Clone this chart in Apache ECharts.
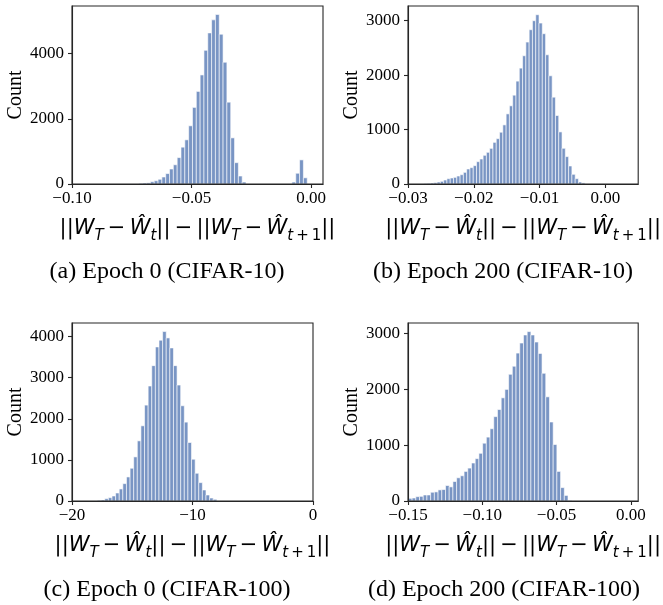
<!DOCTYPE html>
<html>
<head>
<meta charset="utf-8">
<script src="https://cdn.jsdelivr.net/npm/echarts@6/dist/echarts.min.js"></script>
<style>
html,body{margin:0;padding:0;background:#fff;}
#chart{width:663px;height:605px;}
</style>
</head>
<body>
<div id="chart"></div>
<script>
// ---------- data (histogram counts) ----------
// Panel (a) Epoch 0 (CIFAR-10)
const aBinStart = -0.0720, aBinWidth = 0.0016;
const aCounts = [20,30,35,70,100,145,215,320,460,590,810,1130,1355,1785,2350,2840,3345,4100,4635,5035,5200,4595,3735,2510,1415,655,245,60,
  0,0,0,0,0,0,0,0,0,0,0,0,
  60,330,740,190];
const aXTicks = [-0.10,-0.05,0.00];
const aYTicks = [0,2000,4000];

// Panel (b) Epoch 200 (CIFAR-10)
const bBinStart = -0.02758, bBinWidth = 0.0005;
const bCounts = [6,12,18,25,37,49,73,98,110,122,147,171,214,276,300,337,410,459,527,582,655,765,833,
  951,1086,1288,1436,1632,1890,2129,2356,2607,2834,3000,3110,2957,2761,2374,1988,1595,1258,957,656,503,331,178,98,37,20];
const bXTicks = [-0.03,-0.02,-0.01,0.00];
const bYTicks = [0,1000,2000,3000];

// Panel (c) Epoch 0 (CIFAR-100)
const cBinStart = -17.88, cBinWidth = 0.3;
const cCounts = [16,24,57,81,122,195,293,423,585,797,1073,1463,1829,2333,2797,3293,3748,3911,4122,3967,3724,3293,2821,2317,1919,
  1423,1016,675,447,268,146,73,41];
const cXTicks = [-20,-10,0];
const cYTicks = [0,1000,2000,3000,4000];

// Panel (d) Epoch 200 (CIFAR-100)
const dBinStart = -0.14975, dBinWidth = 0.0025;
const dCounts = [48,54,78,84,108,108,157,163,199,205,277,253,349,416,452,530,590,681,759,855,1036,1145,1295,1512,1639,
  1849,2000,2271,2416,2651,2831,2976,3036,2976,2849,2645,2289,1867,1416,1012,530,240,100,10];
const dXTicks = [-0.15,-0.10,-0.05,0.00];
const dYTicks = [0,1000,2000,3000];

const captions = ['(a) Epoch 0 (CIFAR-10)','(b) Epoch 200 (CIFAR-10)','(c) Epoch 0 (CIFAR-100)','(d) Epoch 200 (CIFAR-100)'];
const yName = 'Count';

// ---------- helpers ----------
const INK = '#262626';
function binData(start, width, counts){
  return counts.map((c,i)=>[start+i*width, start+(i+1)*width, c]);
}
function fmt(dec){
  return function(v){
    const s = Math.abs(v).toFixed(dec);
    return (v < -1e-12 ? '\u2212' : '') + s;
  };
}
function renderItem(params, api){
  const x0 = api.value(0), x1 = api.value(1), y = api.value(2);
  if (!y) return null;
  const p0 = api.coord([x0, y]);
  const p1 = api.coord([x1, 0]);
  return {
    type:'rect',
    shape:{x:p0[0], y:p0[1], width:p1[0]-p0[0], height:p1[1]-p0[1]},
    style:{fill:'rgba(76,114,176,0.75)', stroke:'#ffffff', lineWidth:0.6}
  };
}
const xNameRich = {
  i:{fontFamily:'DejaVu Sans', fontStyle:'italic', fontSize:21, lineHeight:30, color:'#000'},
  u:{fontFamily:'DejaVu Sans', fontSize:21, lineHeight:30, color:'#000'},
  s:{fontFamily:'DejaVu Sans', fontStyle:'italic', fontSize:15, lineHeight:15, padding:[15,0,0,0], color:'#000'},
  su:{fontFamily:'DejaVu Sans', fontSize:15, lineHeight:15, padding:[15,0,0,0], color:'#000'}
};
const TS = '\u2009';
const xNameText = '{u|||}{i|W}{s|T}{u|' + TS + '\u2212' + TS + '}{i|\u0174}{s|t}{u|||}{u|' + TS + '\u2212' + TS + '}{u|||}{i|W}{s|T}{u|' + TS + '\u2212' + TS + '}{i|\u0174}{s|t}{su|' + TS + '+' + TS + '1}{u|||}';

const grids = [
  {left:72, top:6, width:251, height:178},
  {left:408, top:6, width:241, height:178},
  {left:72, top:323, width:241, height:178},
  {left:408, top:323, width:241, height:178}
];
const panels = [
  {xmin:-0.10, xmax:0.005, ymax:5460, xt:aXTicks, yt:aYTicks, dec:2, data:binData(aBinStart,aBinWidth,aCounts), ng:44},
  {xmin:-0.03, xmax:0.005, ymax:3270, xt:bXTicks, yt:bYTicks, dec:2, data:binData(bBinStart,bBinWidth,bCounts), ng:42},
  {xmin:-20, xmax:0, ymax:4330, xt:cXTicks, yt:cYTicks, dec:0, data:binData(cBinStart,cBinWidth,cCounts), ng:44},
  {xmin:-0.15, xmax:0.005, ymax:3190, xt:dXTicks, yt:dYTicks, dec:2, data:binData(dBinStart,dBinWidth,dCounts), ng:42}
];

const option = {
  backgroundColor:'#ffffff',
  animation:false,
  grid: grids.map(g=>Object.assign({show:true, borderColor:INK, borderWidth:1.1, backgroundColor:'transparent', z:10, containLabel:false}, g)),
  xAxis: panels.map((p,i)=>({
    type:'value', gridIndex:i, min:p.xmin, max:p.xmax, z:10,
    name:xNameText, nameLocation:'middle', nameGap:30,
    nameTextStyle:{rich:xNameRich},
    axisLine:{show:true, onZero:false, lineStyle:{color:INK, width:1.1}},
    axisTick:{show:true, length:4, lineStyle:{color:INK, width:1.1}, customValues:p.xt},
    axisLabel:{show:true, margin:6, fontFamily:'Liberation Serif', fontSize:17, color:'#000', customValues:p.xt, formatter:fmt(p.dec)},
    splitLine:{show:false}
  })),
  yAxis: panels.map((p,i)=>({
    type:'value', gridIndex:i, min:0, max:p.ymax, z:10,
    name:yName, nameLocation:'middle', nameRotate:90, nameGap:p.ng,
    nameTextStyle:{fontFamily:'Liberation Serif', fontSize:20, color:'#000'},
    axisLine:{show:true, onZero:false, lineStyle:{color:INK, width:1.1}},
    axisTick:{show:true, length:4, lineStyle:{color:INK, width:1.1}, customValues:p.yt},
    axisLabel:{show:true, margin:8, fontFamily:'Liberation Serif', fontSize:17, color:'#000', customValues:p.yt, formatter:function(v){return String(Math.round(v));}},
    splitLine:{show:false}
  })),
  series: panels.map((p,i)=>({
    type:'custom', xAxisIndex:i, yAxisIndex:i, renderItem:renderItem,
    encode:{x:[0,1], y:2}, data:p.data, clip:true, z:2
  })),
  graphic: [
    {type:'text', x:167, y:272, style:{text:captions[0], font:'24px "Liberation Serif"', fill:'#000', textAlign:'center', textVerticalAlign:'middle'}},
    {type:'text', x:503, y:272, style:{text:captions[1], font:'24px "Liberation Serif"', fill:'#000', textAlign:'center', textVerticalAlign:'middle'}},
    {type:'text', x:167, y:590, style:{text:captions[2], font:'24px "Liberation Serif"', fill:'#000', textAlign:'center', textVerticalAlign:'middle'}},
    {type:'text', x:504, y:590, style:{text:captions[3], font:'24px "Liberation Serif"', fill:'#000', textAlign:'center', textVerticalAlign:'middle'}}
  ]
};
const chart = echarts.init(document.getElementById('chart'), null, {renderer:'canvas'});
chart.setOption(option);
</script>
</body>
</html>
